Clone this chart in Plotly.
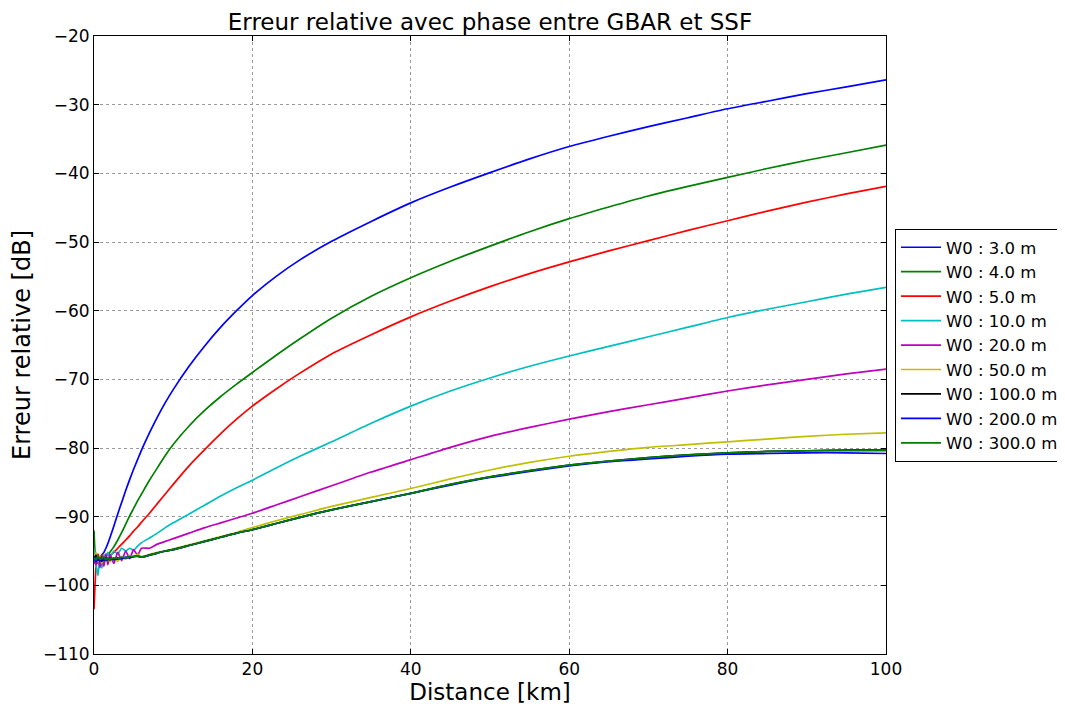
import plotly.graph_objects as go

# Distance samples (km)
distance_km = [0, 0.25, 0.5, 0.75, 1, 1.25, 1.5, 1.75, 2, 2.5, 3, 3.5, 4, 4.5, 5, 5.5, 6,
               7, 8, 9, 10, 12, 14, 16, 18, 20, 23, 26, 30, 35, 40, 45, 50, 55, 60, 65,
               70, 75, 80, 85, 90, 95, 100]

series_labels = ["W0 : 3.0 m", "W0 : 4.0 m", "W0 : 5.0 m", "W0 : 10.0 m", "W0 : 20.0 m",
                 "W0 : 50.0 m", "W0 : 100.0 m", "W0 : 200.0 m", "W0 : 300.0 m"]

err_w3 = [-96.5, -95.5, -96.8, -96.0, -95.6, -95.2, -94.6, -93.9, -93.1, -91.4, -89.6, -87.9,
          -86.2, -84.6, -83.1, -81.7, -80.3, -77.8, -75.5, -73.4, -71.5, -68.1, -65.1, -62.4,
          -60.0, -57.8, -55.0, -52.6, -49.9, -47.0, -44.3, -42.0, -39.9, -37.9, -36.1, -34.6,
          -33.2, -31.9, -30.6, -29.5, -28.4, -27.4, -26.4]
err_w4 = [-92.0, -96.0, -95.5, -96.5, -95.8, -96.2, -95.6, -95.6, -95.2, -94.4, -93.4, -92.3,
          -91.1, -89.9, -88.8, -87.7, -86.7, -84.7, -82.9, -81.1, -79.5, -76.8, -74.5, -72.5,
          -70.7, -69.0, -66.5, -64.1, -61.1, -57.9, -55.2, -52.8, -50.6, -48.5, -46.6, -44.9,
          -43.3, -41.9, -40.6, -39.3, -38.1, -37.0, -35.9]
err_w5 = [-103.5, -97.5, -95.5, -96.5, -95.5, -96.2, -95.8, -95.3, -95.6, -95.2, -94.6, -94.0,
          -93.4, -92.8, -92.1, -91.5, -90.8, -89.5, -88.1, -86.7, -85.3, -82.6, -80.2, -77.9,
          -75.8, -73.9, -71.4, -69.1, -66.3, -63.5, -60.9, -58.6, -56.5, -54.6, -52.9, -51.3,
          -49.8, -48.3, -46.9, -45.5, -44.2, -43.0, -41.9]
err_w10 = [-95.0, -96.8, -98.6, -96.0, -97.5, -95.5, -96.4, -95.2, -96.0, -95.0, -95.4, -94.6,
           -95.0, -94.6, -94.9, -94.3, -93.8, -93.1, -92.4, -91.6, -90.9, -89.6, -88.3, -87.0,
           -85.8, -84.7, -82.9, -81.2, -79.1, -76.4, -73.9, -71.7, -69.8, -68.1, -66.6, -65.2,
           -63.8, -62.4, -61.0, -59.8, -58.7, -57.6, -56.6]
err_w20 = [-96.5, -97.0, -95.6, -97.4, -96.0, -97.2, -95.4, -97.0, -95.5, -96.8, -95.2, -96.4,
           -95.0, -96.1, -94.8, -95.6, -94.6, -94.6, -94.0, -93.6, -93.2, -92.4, -91.6, -90.9,
           -90.2, -89.5, -88.3, -87.1, -85.5, -83.5, -81.7, -79.9, -78.3, -77.0, -75.8, -74.7,
           -73.7, -72.7, -71.7, -70.8, -70.0, -69.2, -68.5]
err_w50 = [-96.0, -95.2, -96.6, -95.8, -96.8, -96.0, -96.5, -95.9, -96.6, -96.0, -96.5, -95.8,
           -96.2, -95.7, -95.9, -95.5, -95.8, -95.5, -95.2, -95.0, -94.7, -94.1, -93.5, -92.9,
           -92.3, -91.6, -90.6, -89.7, -88.5, -87.2, -85.9, -84.5, -83.2, -82.1, -81.2, -80.5,
           -79.9, -79.5, -79.1, -78.7, -78.3, -78.0, -77.8]
err_w100 = [-96.2, -95.6, -96.4, -96.0, -96.5, -96.1, -96.4, -96.1, -96.3, -96.1, -96.2, -96.0,
            -96.0, -95.9, -95.8, -95.7, -95.9, -95.6, -95.3, -95.0, -94.8, -94.2, -93.6, -93.0,
            -92.4, -91.9, -91.0, -90.1, -89.0, -87.8, -86.6, -85.3, -84.2, -83.3, -82.5, -81.9,
            -81.4, -81.0, -80.7, -80.5, -80.4, -80.3, -80.3]
err_w200 = [-95.8, -96.6, -95.9, -96.5, -95.9, -96.4, -96.0, -96.3, -96.0, -96.3, -96.0, -96.1,
            -95.9, -96.0, -95.8, -95.8, -95.9, -95.6, -95.3, -95.0, -94.8, -94.2, -93.6, -93.0,
            -92.4, -91.9, -91.0, -90.1, -89.0, -87.8, -86.6, -85.4, -84.3, -83.4, -82.6, -82.0,
            -81.6, -81.2, -80.9, -80.8, -80.7, -80.7, -80.8]
err_w300 = [-96.0, -96.3, -95.7, -96.2, -96.1, -95.9, -96.3, -96.0, -96.2, -96.0, -96.1, -95.9,
            -96.0, -95.8, -95.8, -95.7, -95.9, -95.6, -95.3, -95.0, -94.8, -94.2, -93.6, -93.0,
            -92.4, -91.9, -91.0, -90.1, -89.0, -87.8, -86.6, -85.3, -84.2, -83.3, -82.5, -81.9,
            -81.4, -81.0, -80.7, -80.5, -80.4, -80.4, -80.4]

all_series = [err_w3, err_w4, err_w5, err_w10, err_w20, err_w50, err_w100, err_w200, err_w300]
colors = ["#0000ff", "#008000", "#ff0000", "#00bfbf", "#bf00bf", "#bfbf00", "#000000",
          "#0000ff", "#008000"]

fig = go.Figure()
for i, (lab, vals) in enumerate(zip(series_labels, all_series)):
    fig.add_trace(go.Scatter(
        x=distance_km, y=vals, mode="lines", name=lab, legendgroup=f"g{i}",
        line=dict(color=colors[i], width=1.7, shape="spline", smoothing=0.6),
    ))

font_family = "DejaVu Sans"
axis_common = dict(
    showline=True, linecolor="black", linewidth=1, mirror="ticks",
    ticks="inside", ticklen=5, tickcolor="black",
    showgrid=True, gridcolor="#9a9a9a", griddash="dot", gridwidth=1,
    zeroline=False, tickfont=dict(family=font_family, size=17, color="black"),
)

W, H = 1065, 704
L, T = 86, 28
PW, PH = 792, 618
fig.update_layout(
    width=W, height=H,
    margin=dict(l=L, r=W - L - PW, t=T, b=H - T - PH, autoexpand=False),
    paper_bgcolor="white", plot_bgcolor="white",
    font=dict(family=font_family, color="black"),
    title=dict(text="Erreur relative avec phase entre GBAR et SSF",
               x=(L + PW / 2) / W, xanchor="center", y=1 - 14 / H, yanchor="middle",
               font=dict(family=font_family, size=23, color="black")),
    xaxis=dict(range=[0, 100], dtick=20, title=dict(text="Distance [km]", standoff=1,
               font=dict(family=font_family, size=23)), **axis_common),
    yaxis=dict(range=[-110, -20], dtick=10, title=dict(text="Erreur relative [dB]", standoff=8,
               font=dict(family=font_family, size=24)), **axis_common),
    legend=dict(x=(895 - 94) / PW, xanchor="left", y=(654 - 229) / PH, yanchor="top",
                bordercolor="black", borderwidth=1, bgcolor="white",
                font=dict(family=font_family, size=16.5, color="black"),
                tracegroupgap=0, itemwidth=40),
    showlegend=True,
)

fig.write_html("out.html")
